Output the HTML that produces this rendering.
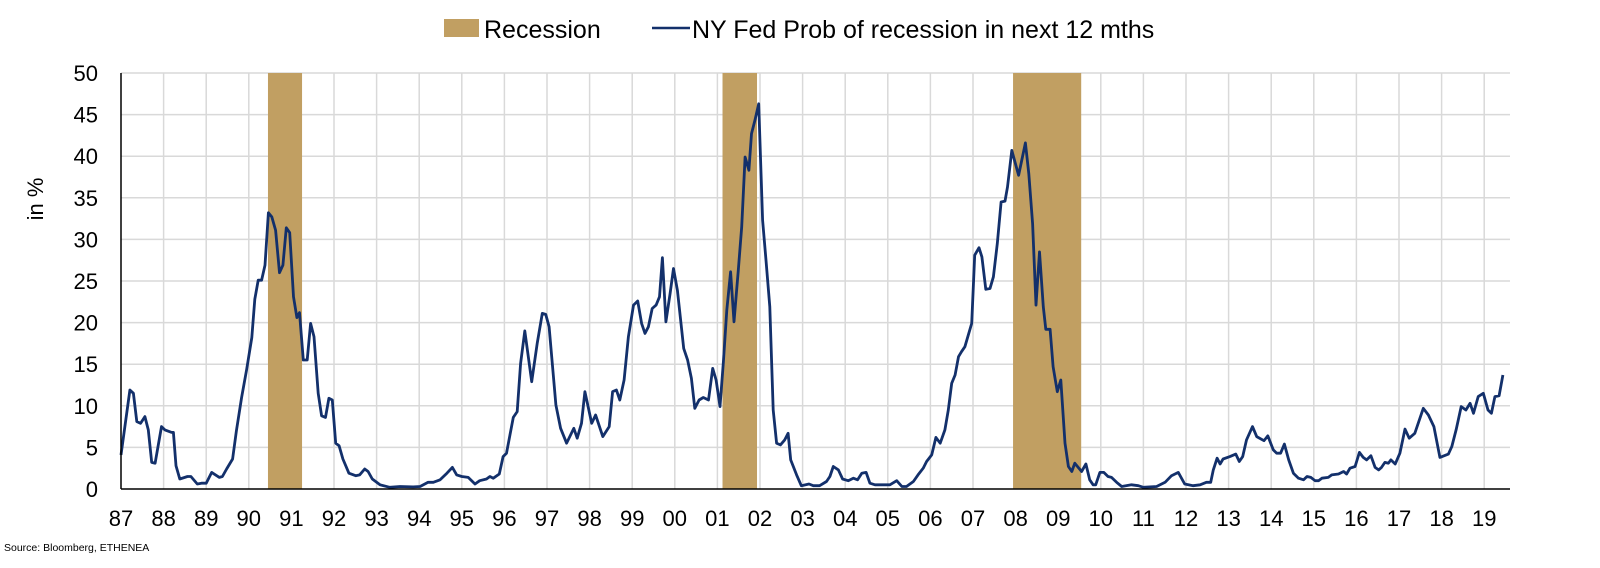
<!DOCTYPE html>
<html><head><meta charset="utf-8">
<style>
html,body{margin:0;padding:0;background:#fff;}
svg{display:block;font-family:"Liberation Sans",Arial,sans-serif;}
</style></head>
<body>
<svg id="chart" width="1600" height="568" viewBox="0 0 1600 568">
  <g id="legend">
    <rect x="444" y="19" width="35" height="18" fill="#c19f62"></rect>
    <text x="484" y="38" font-size="25" fill="#000">Recession</text>
    <line x1="652" y1="28" x2="690" y2="28" stroke="#13306b" stroke-width="2.5"></line>
    <text x="692" y="38" font-size="25" fill="#000">NY Fed Prob of recession in next 12 mths</text>
  </g>
  <g id="grid"></g>
  <g id="bands"></g>
  <g id="series"></g>
  <g id="axes"></g>
  <text x="0" y="0" transform="translate(43,199) rotate(-90)" text-anchor="middle" font-size="22" fill="#000">in %</text>
  <text x="4" y="551" font-size="10.5" fill="#000">Source: Bloomberg, ETHENEA</text>
</svg>
<script>
const yTicks = [0,5,10,15,20,25,30,35,40,45,50];
const xTickYears = [1987,1988,1989,1990,1991,1992,1993,1994,1995,1996,1997,1998,1999,2000,2001,2002,2003,2004,2005,2006,2007,2008,2009,2010,2011,2012,2013,2014,2015,2016,2017,2018,2019];
const xTickLabels = ["87","88","89","90","91","92","93","94","95","96","97","98","99","00","01","02","03","04","05","06","07","08","09","10","11","12","13","14","15","16","17","18","19"];
const recessionStarts = [1990.45, 2001.12, 2007.94];
const recessionEnds = [1991.25, 2001.93, 2009.54];
const offsets = [0.0,0.21,0.29,0.37,0.46,0.56,0.64,0.72,0.80,0.95,1.03,1.19,1.23,1.29,1.38,1.56,1.64,1.79,1.89,2.0,2.13,2.31,2.38,2.48,2.62,2.71,2.83,2.95,3.07,3.14,3.22,3.30,3.38,3.46,3.54,3.63,3.72,3.80,3.88,3.96,4.05,4.13,4.19,4.28,4.37,4.45,4.53,4.63,4.71,4.80,4.88,4.96,5.04,5.12,5.21,5.35,5.51,5.60,5.72,5.80,5.90,6.08,6.31,6.55,6.86,7.02,7.21,7.33,7.49,7.65,7.78,7.88,8.0,8.15,8.31,8.42,8.58,8.66,8.74,8.88,8.97,9.05,9.21,9.30,9.38,9.48,9.64,9.77,9.89,9.97,10.05,10.21,10.32,10.46,10.63,10.71,10.81,10.89,11.05,11.14,11.31,11.46,11.54,11.63,11.71,11.81,11.91,12.03,12.13,12.22,12.30,12.38,12.47,12.56,12.64,12.71,12.79,12.89,12.97,13.06,13.21,13.30,13.39,13.47,13.57,13.67,13.79,13.89,13.97,14.06,14.14,14.22,14.31,14.39,14.49,14.57,14.65,14.74,14.80,14.88,14.97,15.06,15.14,15.23,15.31,15.39,15.48,15.58,15.66,15.72,15.86,15.97,16.15,16.25,16.40,16.56,16.64,16.72,16.84,16.94,17.07,17.19,17.29,17.39,17.49,17.58,17.70,17.82,18.05,18.21,18.33,18.44,18.60,18.71,18.83,18.91,19.03,19.13,19.23,19.34,19.42,19.50,19.58,19.66,19.73,19.81,19.97,20.04,20.14,20.21,20.30,20.40,20.48,20.57,20.66,20.75,20.81,20.91,21.07,21.23,21.31,21.40,21.48,21.56,21.65,21.71,21.81,21.88,21.98,22.06,22.16,22.24,22.32,22.39,22.55,22.65,22.74,22.82,22.88,22.98,23.07,23.17,23.25,23.37,23.49,23.72,23.88,24.0,24.31,24.51,24.66,24.82,24.97,25.17,25.33,25.48,25.58,25.64,25.73,25.80,25.87,26.03,26.17,26.25,26.33,26.42,26.56,26.66,26.83,26.92,27.05,27.13,27.22,27.31,27.41,27.52,27.64,27.76,27.84,27.93,28.03,28.11,28.19,28.34,28.42,28.58,28.70,28.77,28.85,28.97,29.07,29.16,29.24,29.34,29.44,29.52,29.59,29.67,29.75,29.81,29.91,30.02,30.14,30.24,30.37,30.57,30.69,30.82,30.96,31.16,31.24,31.34,31.46,31.57,31.67,31.75,31.86,31.98,32.09,32.17,32.25,32.35,32.44,32.56];
const values = [4.1,11.9,11.5,8.1,7.9,8.7,7.1,3.2,3.1,7.5,7.1,6.8,6.8,2.8,1.2,1.5,1.5,0.6,0.7,0.7,2.0,1.4,1.5,2.4,3.6,7.0,11.0,14.4,18.2,22.8,25.1,25.1,26.9,33.2,32.7,31.1,26.0,26.9,31.4,30.8,23.1,20.6,21.2,15.5,15.5,19.9,18.3,11.5,8.8,8.6,10.9,10.7,5.5,5.2,3.6,1.9,1.6,1.7,2.4,2.1,1.2,0.5,0.2,0.3,0.25,0.3,0.8,0.8,1.1,1.9,2.6,1.7,1.5,1.4,0.6,1.0,1.2,1.5,1.3,1.8,3.9,4.3,8.6,9.3,15.1,19.0,12.9,17.5,21.1,21.0,19.5,10.1,7.3,5.5,7.3,6.1,7.9,11.7,7.9,8.9,6.3,7.5,11.7,11.9,10.7,13.1,18.3,22.1,22.6,19.9,18.7,19.5,21.7,22.1,23.1,27.8,20.1,23.5,26.5,23.9,16.9,15.5,13.3,9.7,10.7,11.0,10.7,14.5,13.1,9.9,15.3,21.5,26.1,20.1,26.3,31.5,39.9,38.3,42.7,44.3,46.3,32.3,27.5,21.9,9.5,5.5,5.3,5.9,6.7,3.5,1.7,0.4,0.6,0.4,0.4,0.9,1.5,2.7,2.3,1.2,1.0,1.3,1.1,1.9,2.0,0.7,0.5,0.5,0.5,1.0,0.3,0.3,0.9,1.7,2.5,3.3,4.1,6.2,5.5,7.1,9.5,12.7,13.7,15.9,16.5,17.1,19.9,28.1,29.0,27.9,24.0,24.1,25.5,29.5,34.5,34.6,36.3,40.7,37.7,41.6,37.9,31.9,22.1,28.5,21.9,19.2,19.2,14.7,11.7,13.1,5.5,2.7,2.1,3.1,2.1,3.0,1.1,0.5,0.5,2.0,2.0,1.5,1.4,0.8,0.3,0.5,0.4,0.2,0.3,0.8,1.6,2.0,0.6,0.4,0.5,0.8,0.8,2.3,3.7,3.0,3.6,3.9,4.2,3.3,3.9,5.9,7.5,6.3,5.8,6.4,4.7,4.3,4.3,5.4,3.5,1.9,1.3,1.1,1.5,1.4,1.0,1.0,1.3,1.4,1.7,1.8,2.1,1.8,2.5,2.7,4.4,3.8,3.5,4.0,2.6,2.3,2.6,3.2,3.1,3.5,3.0,4.3,7.2,6.1,6.7,9.7,8.9,7.5,3.8,4.2,5.1,7.1,9.9,9.5,10.3,9.1,11.1,11.5,9.5,9.1,11.1,11.2,13.7];

const NS = "http://www.w3.org/2000/svg";
const X0 = 121, PX_PER_YEAR = 42.6, Y0 = 489, PX_PER_UNIT = 8.32, XEND = 1510, YTOP = 73;
function xScale(year){ return X0 + (year - 1987) * PX_PER_YEAR; }
function yScale(v){ return Y0 - v * PX_PER_UNIT; }
function mk(tag, attrs, parent){ const e = document.createElementNS(NS, tag); for (const k in attrs) e.setAttribute(k, attrs[k]); parent.appendChild(e); return e; }

const grid = document.getElementById('grid');
yTicks.forEach(function(t){
  if (t === 0) return;
  const l = mk('line', {x1:X0, x2:XEND, y1:yScale(t), y2:yScale(t), stroke:'#d9d9d9', 'stroke-width':1.5}, grid);
  
  
});
xTickYears.forEach(function(yr){
  if (yr === 1987) return;
  const l = mk('line', {x1:xScale(yr), x2:xScale(yr), y1:YTOP, y2:Y0, stroke:'#d9d9d9', 'stroke-width':1.5}, grid);
  
  
});

const bands = document.getElementById('bands');
recessionStarts.forEach(function(s, i){
  const r = mk('rect', {x:xScale(s), y:YTOP, width:xScale(recessionEnds[i]) - xScale(s), height:Y0 - YTOP, fill:'#c19f62'}, bands);
  
  
});

const series = document.getElementById('series');
let d = '';
offsets.forEach(function(o, i){ d += (i ? 'L' : 'M') + xScale(1987 + o).toFixed(1) + ',' + yScale(values[i]).toFixed(1); });
const path = mk('path', {d:d, fill:'none', stroke:'#13306b', 'stroke-width':2.8, 'stroke-linejoin':'round'}, series);



const axes = document.getElementById('axes');
const ya = mk('line', {x1:X0, x2:X0, y1:YTOP, y2:Y0, stroke:'#000', 'stroke-width':1.5}, axes);


const xa = mk('line', {x1:X0, x2:XEND, y1:Y0, y2:Y0, stroke:'#000', 'stroke-width':1.5}, axes);


yTicks.forEach(function(t){
  const tx = mk('text', {x:98, y:yScale(t) + 8, 'text-anchor':'end', 'font-size':22, fill:'#000'}, axes);
  tx.textContent = String(t);
  
  
});
xTickYears.forEach(function(yr, i){
  const tx = mk('text', {x:xScale(yr), y:526, 'text-anchor':'middle', 'font-size':22, fill:'#000'}, axes);
  tx.textContent = xTickLabels[i];
  
  
});
</script>
</body></html>
